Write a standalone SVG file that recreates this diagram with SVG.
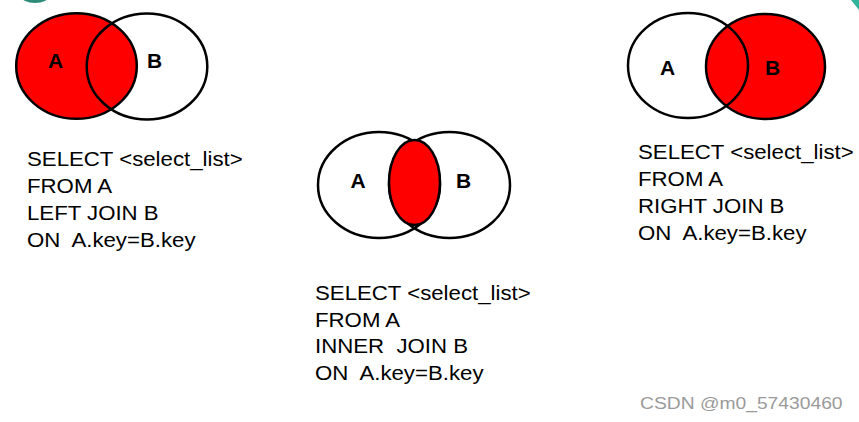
<svg xmlns="http://www.w3.org/2000/svg" width="859" height="422" viewBox="0 0 859 422">
<style>
.c{stroke:#000;stroke-width:2.5}
.red{fill:#ff0000}
.no{fill:none}
.lbl{font-family:"Liberation Sans",Arial,sans-serif;font-weight:bold;font-size:21px;fill:#000;text-anchor:middle}
.sql{font-family:"Liberation Sans",Arial,sans-serif;font-size:19.5px;fill:#000;white-space:pre}
.wm{font-family:"Liberation Sans",Arial,sans-serif;font-size:17.2px;fill:#9a9a9a}
</style>
<rect width="859" height="422" fill="#fff"/>
<g id="decor">
<ellipse cx="35" cy="-4" rx="14" ry="7" fill="#2e8b7a"/>
<path d="M851 0 L859 0 L859 10 Z" fill="#2fb59a"/>
</g>
<g id="left-join">
<ellipse class="c red" cx="76.5" cy="66" rx="60.3" ry="52.8"/>
<ellipse class="c no" cx="147" cy="66.5" rx="60.3" ry="53"/>
<text class="lbl" x="55.5" y="68">A</text>
<text class="lbl" x="154.5" y="68">B</text>
<g transform="translate(27,0) scale(1.14,1)">
<text class="sql" x="0" y="166" xml:space="preserve">SELECT &lt;select_list&gt;</text>
<text class="sql" x="0" y="193" xml:space="preserve">FROM A</text>
<text class="sql" x="0" y="220" xml:space="preserve">LEFT JOIN B</text>
<text class="sql" x="0" y="247" xml:space="preserve">ON  A.key=B.key</text>
</g>
</g>
<g id="inner-join">
<ellipse class="c no" cx="379" cy="185" rx="61" ry="53"/>
<ellipse class="c no" cx="449.5" cy="185" rx="60.5" ry="53"/>
<ellipse class="c red" cx="414.5" cy="182.5" rx="25.5" ry="42.5"/>
<text class="lbl" x="358" y="188">A</text>
<text class="lbl" x="463.7" y="188">B</text>
<g transform="translate(315,0) scale(1.14,1)">
<text class="sql" x="0" y="300" xml:space="preserve">SELECT &lt;select_list&gt;</text>
<text class="sql" x="0" y="327" xml:space="preserve">FROM A</text>
<text class="sql" x="0" y="353" xml:space="preserve">INNER  JOIN B</text>
<text class="sql" x="0" y="380" xml:space="preserve">ON  A.key=B.key</text>
</g>
</g>
<g id="right-join">
<ellipse class="c red" cx="765.5" cy="66.5" rx="59.5" ry="52.5"/>
<ellipse class="c no" cx="688" cy="65.5" rx="60" ry="52.5"/>
<text class="lbl" x="667.5" y="75">A</text>
<text class="lbl" x="772.5" y="75">B</text>
<g transform="translate(638,0) scale(1.14,1)">
<text class="sql" x="0" y="159" xml:space="preserve">SELECT &lt;select_list&gt;</text>
<text class="sql" x="0" y="186" xml:space="preserve">FROM A</text>
<text class="sql" x="0" y="213" xml:space="preserve">RIGHT JOIN B</text>
<text class="sql" x="0" y="240" xml:space="preserve">ON  A.key=B.key</text>
</g>
</g>
<g id="connectors"></g>
<g id="watermark" transform="translate(640,0) scale(1.12,1)">
<text class="wm" x="0" y="409">CSDN @m0_57430460</text>
</g>
</svg>
